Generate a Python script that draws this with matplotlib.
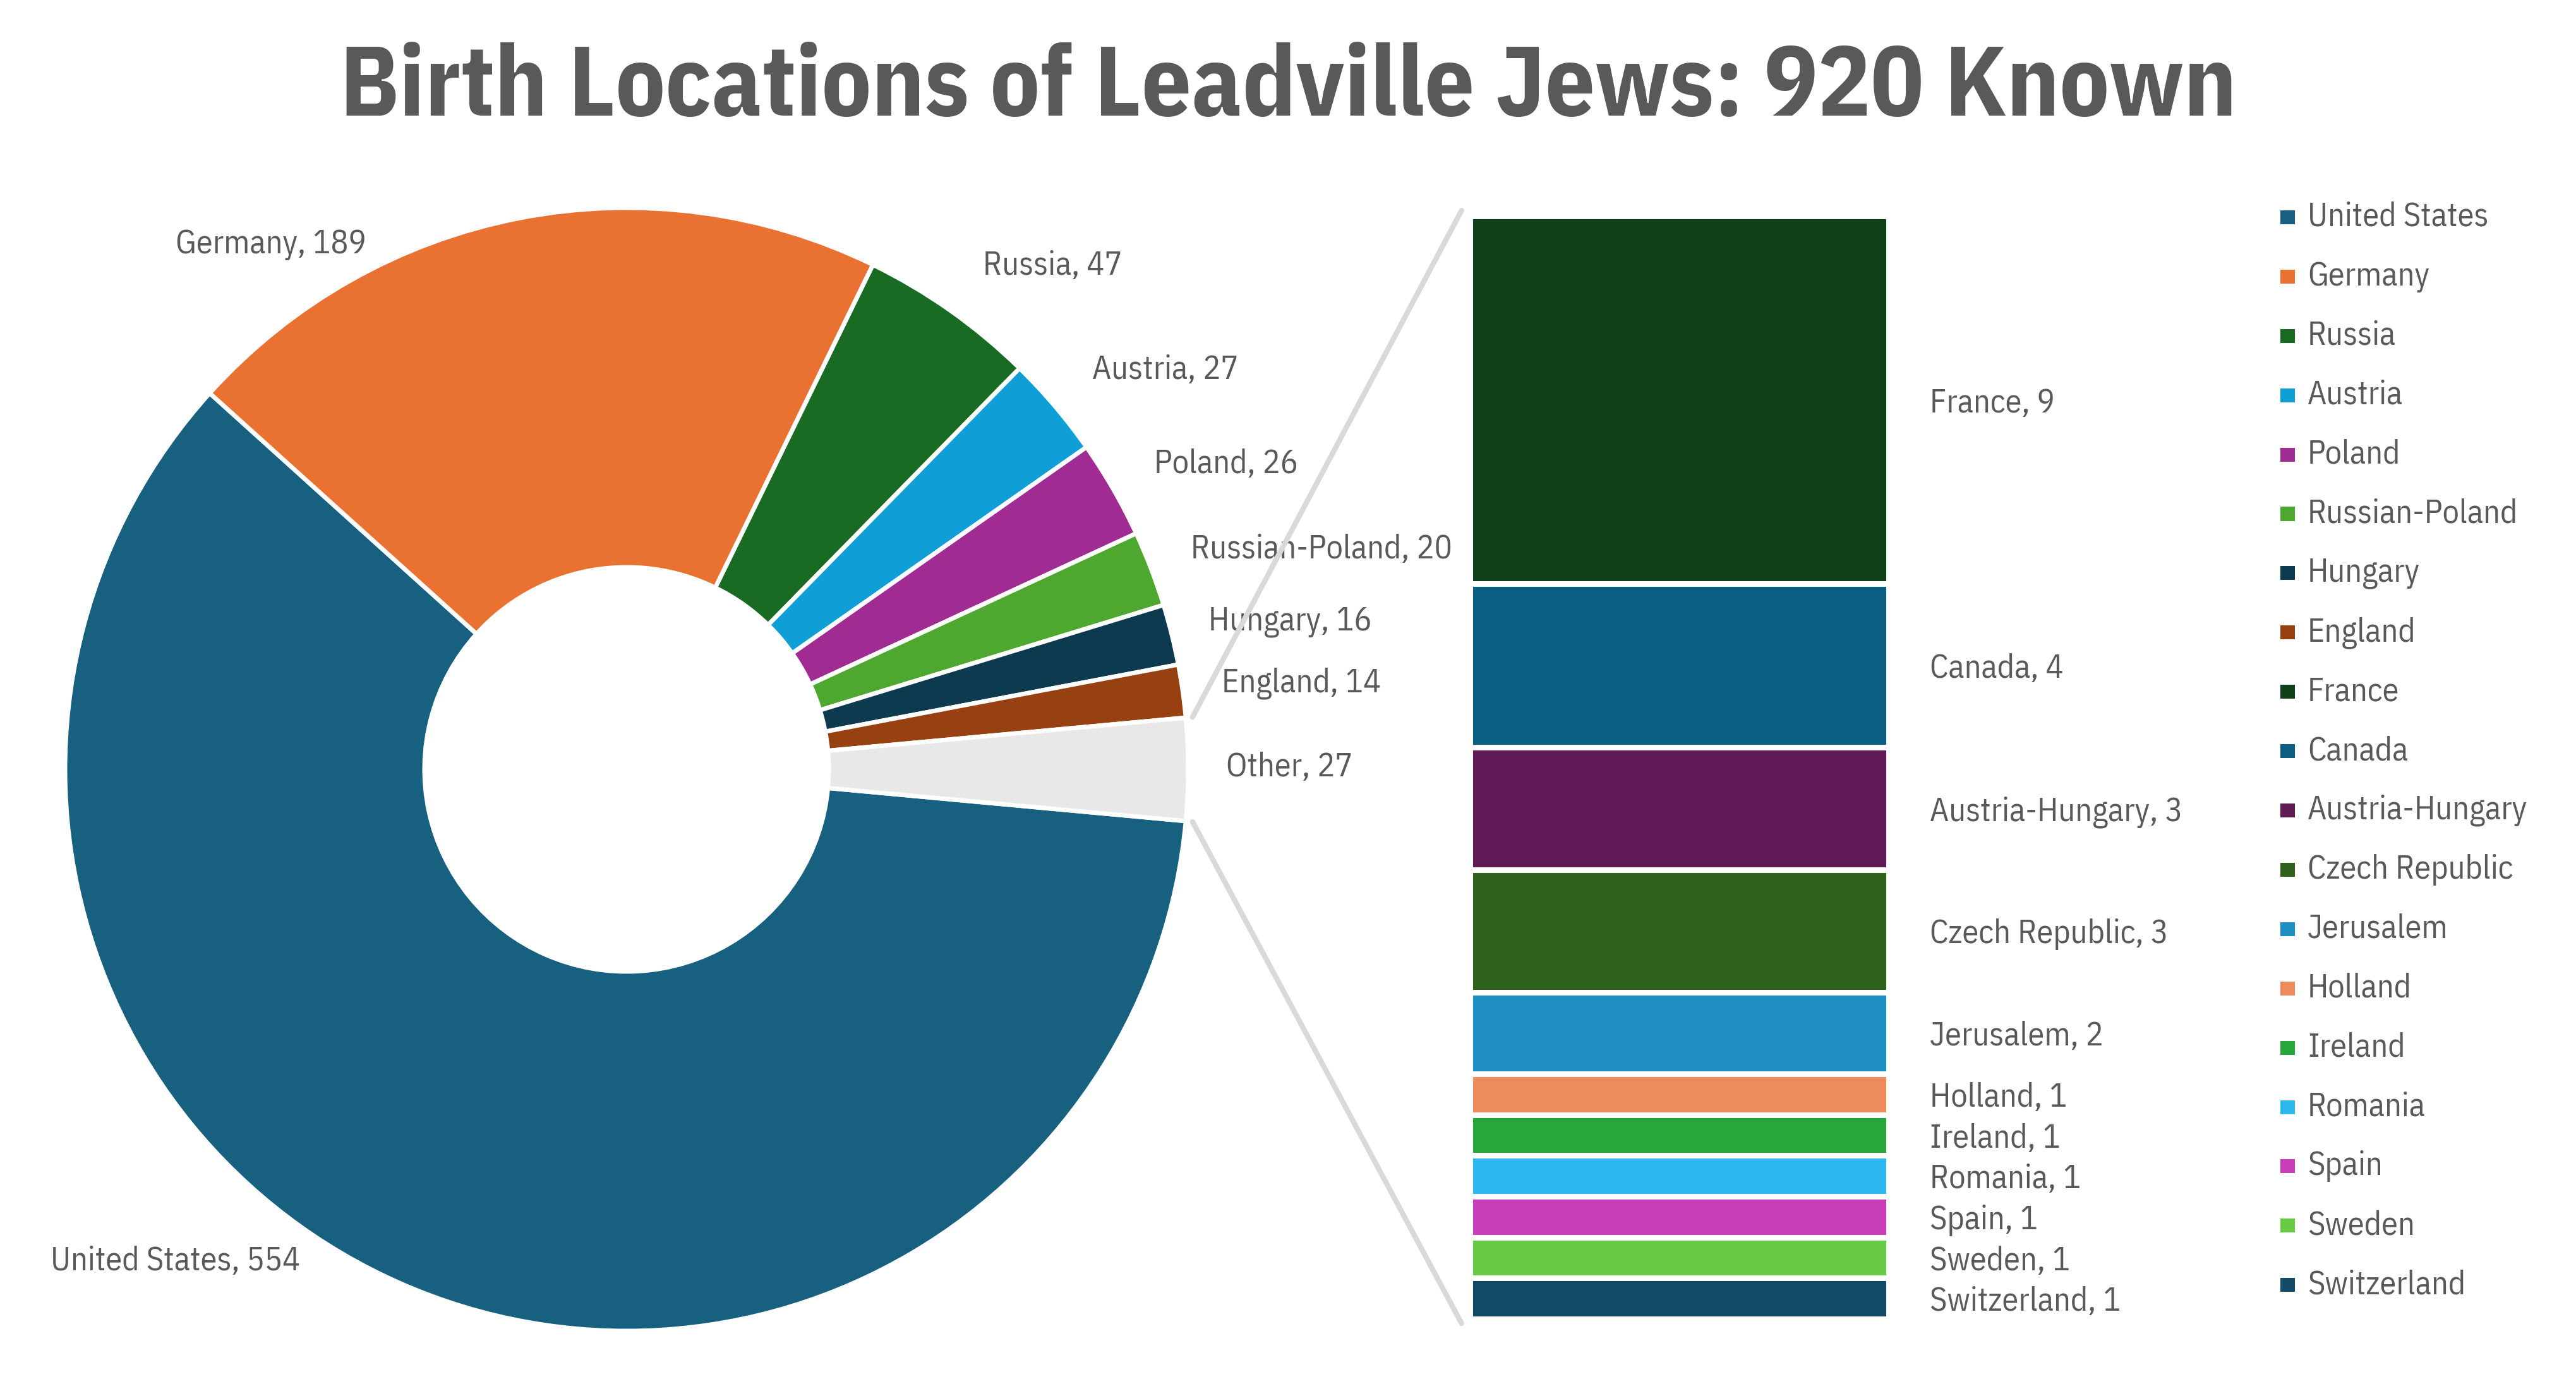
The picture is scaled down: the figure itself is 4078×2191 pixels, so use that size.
import matplotlib
matplotlib.use("Agg")
import matplotlib.pyplot as plt
from matplotlib.patches import Rectangle, ConnectionPatch
from matplotlib.transforms import blended_transform_factory, offset_copy
import numpy as np

# ---------------- data ----------------
title = "Birth Locations of Leadville Jews: 920 Known"

main_labels = ["United States", "Germany", "Russia", "Austria", "Poland",
               "Russian-Poland", "Hungary", "England", "Other"]
main_values = [554, 189, 47, 27, 26, 20, 16, 14, 27]
main_colors = ["#17607F", "#E97132", "#196B24", "#0F9ED5", "#A02B93",
               "#4EA72E", "#0E3A50", "#974011", "#E8E8E8"]

other_labels = ["France", "Canada", "Austria-Hungary", "Czech Republic", "Jerusalem",
                "Holland", "Ireland", "Romania", "Spain", "Sweden", "Switzerland"]
other_values = [9, 4, 3, 3, 2, 1, 1, 1, 1, 1, 1]
other_colors = ["#10401A", "#0B5E81", "#5F1A56", "#2F621C", "#1F8EC1",
                "#EE8C5E", "#29A63A", "#2DB9EF", "#C93DB9", "#68CB45", "#134A67"]

# ---------------- style / layout ----------------
plt.rcParams["font.family"] = ["IBM Plex Sans Condensed", "DejaVu Sans"]
TXT = "#595959"
FS = 18.8
W, H = 4078, 2191
DPI = 200
fig = plt.figure(figsize=(W / DPI, H / DPI), dpi=DPI)
fig.patch.set_facecolor("white")

# pie label anchor positions (in pie-radius units)
pie_label_xy = [(-0.804, -0.876), (-0.633, 0.935), (0.758, 0.897), (0.959, 0.711),
                (1.067, 0.543), (1.237, 0.391), (1.182, 0.263), (1.201, 0.153),
                (1.180, 0.003)]

# ---------------- donut ----------------
cx, cy, R = 992, 1218, 889
ax = fig.add_axes([(cx - R) / W, (H - cy - R) / H, 2 * R / W, 2 * R / H])
total = sum(main_values)
start = -180.0 * main_values[-1] / total
wedges, _ = ax.pie(main_values, colors=main_colors, startangle=start,
                   counterclock=False, radius=1.0,
                   wedgeprops=dict(width=0.64, edgecolor="white", linewidth=2.5))
ax.set_xlim(-1, 1)
ax.set_ylim(-1, 1)
ax.set_aspect("equal")
ax.axis("off")

for lab, val, (lx, ly) in zip(main_labels, main_values, pie_label_xy):
    ax.text(lx, ly, f"{lab}, {val}", ha="center", va="center",
            fontsize=FS, color=TXT, clip_on=False)

# ---------------- bar of "Other" ----------------
bx0, bx1, by0, by1 = 2327, 2990, 342, 2088
axb = fig.add_axes([bx0 / W, (H - by1) / H, (bx1 - bx0) / W, (by1 - by0) / H])
otot = sum(other_values)
tops = otot - np.concatenate([[0], np.cumsum(other_values)[:-1]])
bottoms = tops - np.array(other_values)
axb.bar([0.5] * len(other_values), other_values, width=1.0, bottom=bottoms,
        color=other_colors, edgecolor="white", linewidth=3.2)
axb.set_xlim(0, 1)
axb.set_ylim(0, otot)
axb.axis("off")
tr = offset_copy(blended_transform_factory(axb.transAxes, axb.transData),
                 fig=fig, x=0, y=-2, units="points")
for lab, val, b in zip(other_labels, other_values, bottoms):
    axb.text(1.098, b + val / 2.0, f"{lab}, {val}", transform=tr, ha="left",
             va="center", fontsize=FS, color=TXT, clip_on=False)

# ---------------- connector lines ----------------
half = np.deg2rad(180.0 * main_values[-1] / total)
for sgn, yB in ((1, 1.005), (-1, -0.004)):
    p = (1.012 * np.cos(half), sgn * 1.012 * np.sin(half))
    con = ConnectionPatch(xyA=p, coordsA=ax.transData, xyB=(-0.02, yB),
                          coordsB=axb.transAxes, color="#D9D9D9", lw=3)
    fig.add_artist(con)

# ---------------- legend ----------------
leg_labels = main_labels[:-1] + other_labels
leg_colors = main_colors[:-1] + other_colors
y_first, y_step = 344, 93.9
for i, (lab, col) in enumerate(zip(leg_labels, leg_colors)):
    yc = y_first + i * y_step
    fig.add_artist(Rectangle((3610 / W, (H - yc - 11) / H), 23 / W, 22 / H,
                             transform=fig.transFigure, facecolor=col,
                             edgecolor="none"))
    fig.text(3653 / W, (H - yc) / H, lab, ha="left", va="center",
             fontsize=FS, color=TXT)

# ---------------- title ----------------
fig.text(0.5, 1 - 183 / H, title, ha="center", va="baseline", fontsize=56,
         fontweight="bold", color=TXT)

fig.savefig("out.png", dpi=DPI, facecolor="white")
